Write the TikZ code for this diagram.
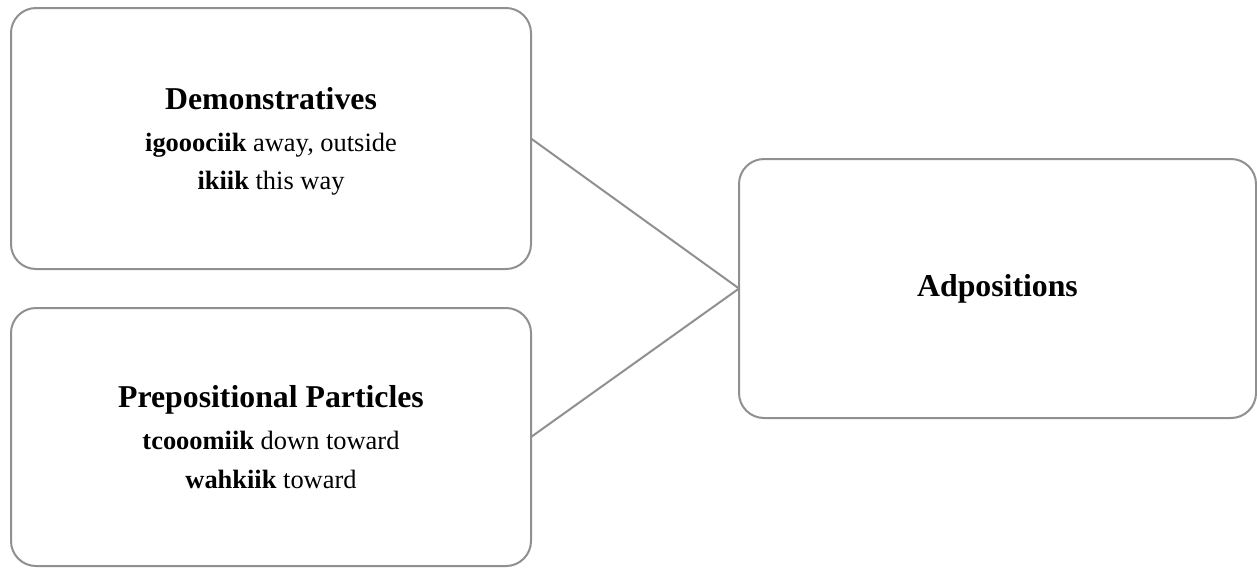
\documentclass[tikz,border=0pt]{standalone}
\usepackage{fontspec}
\setmainfont{Liberation Serif}
\definecolor{edgegray}{RGB}{144,144,144}
\begin{document}
\begin{tikzpicture}[x=0.45pt,y=-0.45pt,
  card/.style={draw=edgegray, line width=0.9pt, rounded corners=11.25pt,
    align=center, inner sep=0pt, outer sep=0pt, fill=white},
  link/.style={draw=edgegray, line width=0.9pt},
  head/.style={font=\fontsize{14.3}{17.5}\selectfont\bfseries},
  body/.style={font=\fontsize{11.9}{17.5}\selectfont}]
  \useasboundingbox (0,0) rectangle (1257,567);
  \newcommand{\ttl}[1]{{\fontsize{14.3}{17.5}\selectfont\bfseries #1}\\[1.4pt]}
  % left column: word classes with examples
  \node[card, body, minimum width=520*0.45pt, minimum height=261*0.45pt, text depth=0pt]
    (demo) at (271,138.5)
    {\ttl{Demonstratives}\textbf{igooociik} away, outside\\\textbf{ikiik} this way};
  \node[card, body, minimum width=520*0.45pt, minimum height=258*0.45pt, text depth=0pt]
    (prep) at (271,437)
    {\ttl{Prepositional Particles}\textbf{tcooomiik} down toward\\\textbf{wahkiik} toward};
  % right: the combined category
  \node[card, head, minimum width=517*0.45pt, minimum height=259*0.45pt]
    (adp) at (997.5,288.5) {Adpositions};
  % connectors
  \draw[link] (demo.east) -- (adp.west);
  \draw[link] (prep.east) -- (adp.west);
\end{tikzpicture}
\end{document}
